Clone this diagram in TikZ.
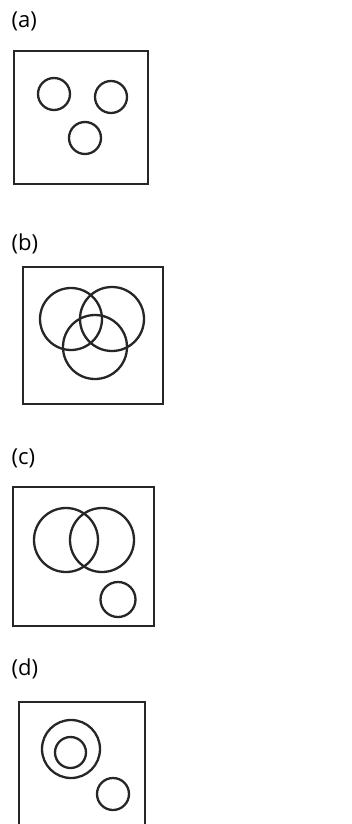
\documentclass[tikz,border=0pt]{standalone}
\usepackage{fontspec}
\setmainfont{Open Sans}
\begin{document}
\begin{tikzpicture}[x=1pt,y=-1pt,
  frame/.style={draw=black!85,line width=2.9pt},
  ring/.style={draw=black!85,line width=2.3pt},
  lab/.style={anchor=base west,inner sep=0pt,font=\fontsize{22}{25}\selectfont}]
\useasboundingbox (0,0) rectangle (352,824);
% (a)
\node[lab] (la) at (11.5,27.5) {(a)};
\draw[frame] (14,51) rectangle (148,184);
\draw[ring] (54,94) circle (16);
\draw[ring] (111,97) circle (16);
\draw[ring] (85,138) circle (16);
% (b)
\node[lab] (lb) at (11.5,250) {(b)};
\draw[frame] (23,267) rectangle (163,404);
\draw[ring] (71,319) circle (31);
\draw[ring] (112,319) circle (32);
\draw[ring] (95,347) circle (32);
% (c)
\node[lab] (lc) at (11.5,464) {(c)};
\draw[frame] (13,487) rectangle (154,626);
\draw[ring] (66,540) circle (32);
\draw[ring] (102,540) circle (32);
\draw[ring] (118,599.5) circle (17.5);
% (d)
\node[lab] (ld) at (11.5,675) {(d)};
\draw[frame] (19,830) -- (19,702) -- (145,702) -- (145,830);
\draw[ring] (71,749) circle (29);
\draw[ring] (70.5,752.5) circle (15.5);
\draw[ring] (113,794) circle (16);
\end{tikzpicture}
\end{document}
